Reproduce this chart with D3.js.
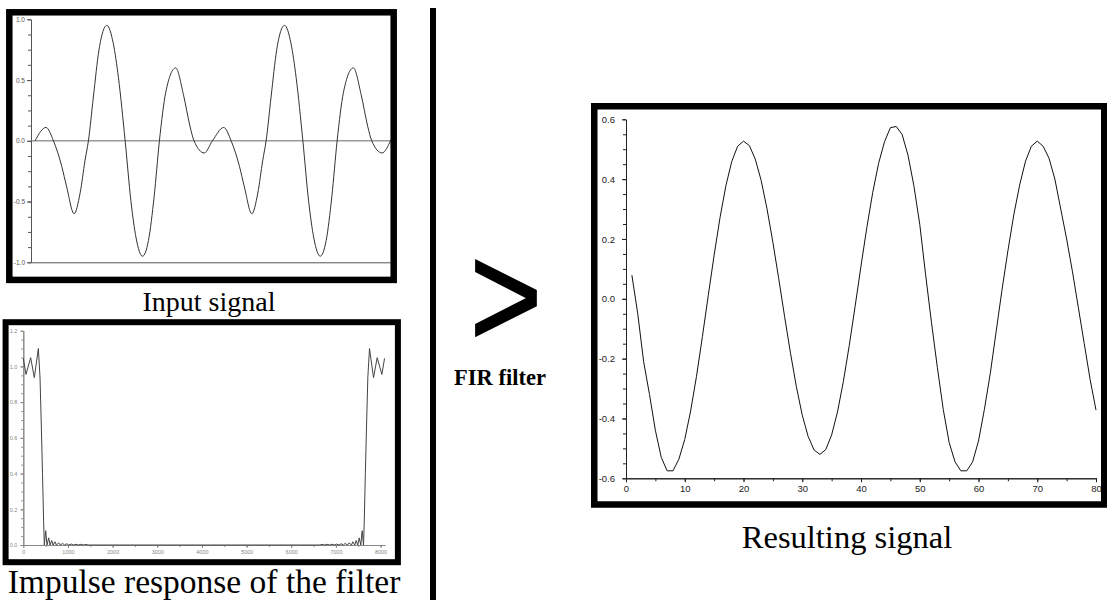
<!DOCTYPE html>
<html>
<head>
<meta charset="utf-8">
<script src="https://cdn.jsdelivr.net/npm/d3@7"></script>
<style>
  body { margin: 0; background: #fff; }
  svg { display: block; }
</style>
</head>
<body>
<svg id="figure" width="1107" height="600"></svg>
<script>
// input signal, two periods
const inputT = [0, 6.2, 10.4, 15.1, 17.9, 22.1, 25.5, 28.3, 30.2, 33, 36.2, 40.6, 44.3, 47.2, 51, 54.3, 57.2, 60.8, 64.2, 67.4, 70.4, 74, 79.6, 84, 87.7, 90, 95.8, 100.4,
  106.8, 111, 115.7, 118.5, 122.7, 126.1, 128.9, 130.8, 133.6, 136.8, 141.2, 144.9, 147.8, 151.6, 154.9, 157.8, 161.4, 164.8, 168, 171, 174.6, 180.2, 184.6, 188.3, 190.6, 196.4, 201.5];
const inputV = [0, 0.11, 0, -0.21, -0.38, -0.60, -0.43, -0.16, 0, 0.36, 0.75, 0.95, 0.80, 0.52, 0, -0.50, -0.80, -0.95, -0.82, -0.46, 0, 0.40, 0.60, 0.38, 0.12, 0, -0.10, 0,
  0.11, 0, -0.21, -0.38, -0.60, -0.43, -0.16, 0, 0.36, 0.75, 0.95, 0.80, 0.52, 0, -0.50, -0.80, -0.95, -0.82, -0.46, 0, 0.40, 0.60, 0.38, 0.12, 0, -0.10, 0.01];
const inputYTicks = [-1, -0.5, 0, 0.5, 1];

// impulse response of the filter
const impulseX = [0, 60, 165, 247, 337, 374, 400, 430, 455, 471, 501, 531, 569, 599, 636, 666, 711, 741, 793, 831, 883, 921, 973, 1018, 1078, 1120, 1180, 1230, 1290, 1340, 1400, 1450, 2500,
  5600, 6640, 6690, 6750, 6800, 6860, 6910, 6970, 7012, 7072, 7117, 7169, 7207, 7259, 7297, 7349, 7379, 7424, 7454, 7491, 7521, 7559, 7589, 7619, 7635, 7660, 7690, 7716, 7753, 7843, 7925, 8030, 8090];
const impulseY = [1.045, 0.955, 1.049, 0.937, 1.10, 0.94, 0.70, 0.40, 0.13, 0, 0.08, 0, 0.04, 0, 0.025, 0, 0.018, 0, 0.012, 0, 0.009, 0, 0.007, 0, 0.005, 0, 0.004, 0, 0.004, 0, 0.003, 0, 0,
  0, 0, 0.003, 0, 0.004, 0, 0.004, 0, 0.005, 0, 0.007, 0, 0.009, 0, 0.012, 0, 0.018, 0, 0.025, 0, 0.04, 0, 0.08, 0, 0.13, 0.40, 0.70, 0.94, 1.10, 0.937, 1.049, 0.955, 1.045];
const impulseXTicks = [0, 1000, 2000, 3000, 4000, 5000, 6000, 7000, 8000];
const impulseYTicks = [0, 0.2, 0.4, 0.6, 0.8, 1.0, 1.2];

// resulting signal, samples 1..80
const resultY = [0.079, -0.05, -0.21, -0.32, -0.44, -0.53, -0.575, -0.575, -0.536, -0.470,
  -0.375, -0.259, -0.127, 0.011, 0.146, 0.271, 0.378, 0.459, 0.510, 0.527,
  0.512, 0.467, 0.396, 0.301, 0.189, 0.067, -0.060, -0.182, -0.294, -0.389,
  -0.460, -0.505, -0.520, -0.504, -0.455, -0.378, -0.276, -0.156, -0.025, 0.110,
  0.239, 0.356, 0.453, 0.525, 0.572, 0.576, 0.549, 0.480, 0.378, 0.249,
  0.08, -0.08, -0.23, -0.37, -0.48, -0.545, -0.575, -0.575, -0.545, -0.475,
  -0.37, -0.25, -0.11, 0.03, 0.16, 0.28, 0.38, 0.46, 0.51, 0.527,
  0.51, 0.47, 0.40, 0.30, 0.20, 0.09, -0.03, -0.15, -0.27, -0.372];
const resultXTicks = [0, 10, 20, 30, 40, 50, 60, 70, 80];
const resultYTicks = [-0.6, -0.4, -0.2, 0, 0.2, 0.4, 0.6];

const svg = d3.select("#figure");

function styleAxis(g, size, color) {
  g.attr("font-family", "'Liberation Sans', Arial, sans-serif").attr("font-size", size);
  g.select(".domain").attr("stroke", color);
  g.selectAll(".tick line").attr("stroke", color);
  g.selectAll(".tick text").attr("fill", color);
}

function drawFrame(x0, y0, x1, y1, w) {
  svg.append("rect")
    .attr("x", x0).attr("y", y0)
    .attr("width", x1 - x0).attr("height", y1 - y0)
    .attr("fill", "none")
    .attr("stroke", "#000")
    .attr("stroke-width", w);
}

function drawInputSignal() {
  const x = d3.scaleLinear().domain([-2.3, 201.5]).range([31, 391]);
  const y = d3.scaleLinear().domain([-1, 1]).range([262.3, 19.3]);

  svg.append("line")
    .attr("x1", x(-2.3)).attr("x2", x(201.5))
    .attr("y1", y(0)).attr("y2", y(0))
    .attr("stroke", "#999").attr("stroke-width", 1.5);
  svg.append("line")
    .attr("x1", x(-2.3)).attr("x2", x(201.5))
    .attr("y1", y(-1) + 0.5).attr("y2", y(-1) + 0.5)
    .attr("stroke", "#555");

  svg.append("g")
    .attr("transform", `translate(${x(-2.3)},0)`)
    .call(d3.axisLeft(y).tickValues(d3.range(-1, 1.001, 0.125)).tickSize(3).tickSizeOuter(0).tickFormat(""))
    .call(g => styleAxis(g, 6.5, "#555"));
  svg.append("g")
    .attr("transform", `translate(${x(-2.3)},0)`)
    .call(d3.axisLeft(y).tickValues(inputYTicks).tickSize(4).tickSizeOuter(0).tickPadding(2).tickFormat(d => d.toFixed(1)))
    .call(g => styleAxis(g, 6.5, "#555"));

  svg.append("path")
    .datum(inputT.map((t, i) => [t, inputV[i]]))
    .attr("d", d3.line().x(d => x(d[0])).y(d => y(d[1])).curve(d3.curveMonotoneX))
    .attr("fill", "none")
    .attr("stroke", "#333")
    .attr("stroke-width", 1);

  drawFrame(9.3, 12.3, 393.7, 279.9, 6.5);
}

function drawImpulse() {
  const x = d3.scaleLinear().domain([0, 8100]).range([23.3, 385]);
  const y = d3.scaleLinear().domain([0, 1.2]).range([545, 330.7]);

  svg.append("g")
    .attr("transform", `translate(0,${y(0)})`)
    .call(d3.axisBottom(x).tickValues(d3.range(0, 8001, 500)).tickSize(2).tickSizeOuter(0).tickFormat(""))
    .call(g => styleAxis(g, 5.5, "#888"));
  svg.append("g")
    .attr("transform", `translate(0,${y(0)})`)
    .call(d3.axisBottom(x).tickValues(impulseXTicks).tickSize(3).tickSizeOuter(0).tickPadding(2).tickFormat(d => String(d)))
    .call(g => styleAxis(g, 5.5, "#888"));

  svg.append("g")
    .attr("transform", `translate(${x(0)},0)`)
    .call(d3.axisLeft(y).tickValues(d3.range(0, 1.201, 0.05)).tickSize(2).tickSizeOuter(0).tickFormat(""))
    .call(g => styleAxis(g, 5.5, "#888"));
  svg.append("g")
    .attr("transform", `translate(${x(0)},0)`)
    .call(d3.axisLeft(y).tickValues(impulseYTicks).tickSize(3).tickSizeOuter(0).tickPadding(3).tickFormat(d => d.toFixed(1)))
    .call(g => styleAxis(g, 5.5, "#888"));

  svg.append("path")
    .datum(impulseX.map((v, i) => [v, impulseY[i]]))
    .attr("d", d3.line().x(d => x(d[0])).y(d => y(d[1])))
    .attr("fill", "none")
    .attr("stroke", "#444")
    .attr("stroke-width", 1);

  drawFrame(5.6, 322.2, 397.9, 562.2, 6);
}

function drawResult() {
  const x = d3.scaleLinear().domain([0, 80]).range([626, 1096]);
  const y = d3.scaleLinear().domain([-0.6, 0.6]).range([478.3, 119.3]);

  svg.append("g")
    .attr("transform", `translate(0,${y(-0.6)})`)
    .call(d3.axisBottom(x).tickValues(d3.range(0, 81, 5)).tickSize(3).tickSizeOuter(0).tickFormat(""))
    .call(g => styleAxis(g, 9.5, "#222"));
  svg.append("g")
    .attr("transform", `translate(0,${y(-0.6)})`)
    .call(d3.axisBottom(x).tickValues(resultXTicks).tickSize(4).tickSizeOuter(0).tickPadding(3))
    .call(g => styleAxis(g, 9.5, "#222"));

  svg.append("g")
    .attr("transform", `translate(${x(0)},0)`)
    .call(d3.axisLeft(y).tickValues(d3.range(-0.6, 0.601, 0.05)).tickSize(3).tickSizeOuter(0).tickFormat(""))
    .call(g => styleAxis(g, 9.5, "#222"));
  svg.append("g")
    .attr("transform", `translate(${x(0)},0)`)
    .call(d3.axisLeft(y).tickValues(resultYTicks).tickSize(4).tickSizeOuter(0).tickPadding(7).tickFormat(d => d.toFixed(1)))
    .call(g => styleAxis(g, 9.5, "#222"));

  svg.append("path")
    .datum(resultY.map((v, i) => [i + 1, v]))
    .attr("d", d3.line().x(d => x(d[0])).y(d => y(d[1])))
    .attr("fill", "none")
    .attr("stroke", "#111")
    .attr("stroke-width", 1);

  drawFrame(594.25, 106.25, 1104.25, 504.5, 6.5);
}

drawInputSignal();
drawImpulse();
drawResult();

// separator
svg.append("line")
  .attr("x1", 433).attr("x2", 433)
  .attr("y1", 8).attr("y2", 600)
  .attr("stroke", "#000").attr("stroke-width", 6);

// captions
const serif = "'Liberation Serif', 'Times New Roman', serif";
svg.append("text").attr("x", 209).attr("y", 311)
  .attr("text-anchor", "middle").attr("font-family", serif).attr("font-size", 28)
  .text("Input signal");
svg.append("text").attr("x", 204).attr("y", 593)
  .attr("text-anchor", "middle").attr("font-family", serif).attr("font-size", 33.5)
  .text("Impulse response of the filter");
svg.append("text").attr("x", 847).attr("y", 548)
  .attr("text-anchor", "middle").attr("font-family", serif).attr("font-size", 32.5)
  .text("Resulting signal");

svg.append("text")
  .attr("transform", "translate(506,347) scale(1,1.2)")
  .attr("text-anchor", "middle")
  .attr("font-family", "'Liberation Sans', Arial, sans-serif").attr("font-size", 124)
  .attr("stroke", "#000").attr("stroke-width", 1.5)
  .text(">");
svg.append("text").attr("x", 500).attr("y", 385)
  .attr("text-anchor", "middle").attr("font-family", serif).attr("font-size", 22.5)
  .attr("font-weight", "bold")
  .text("FIR filter");
</script>
</body>
</html>
